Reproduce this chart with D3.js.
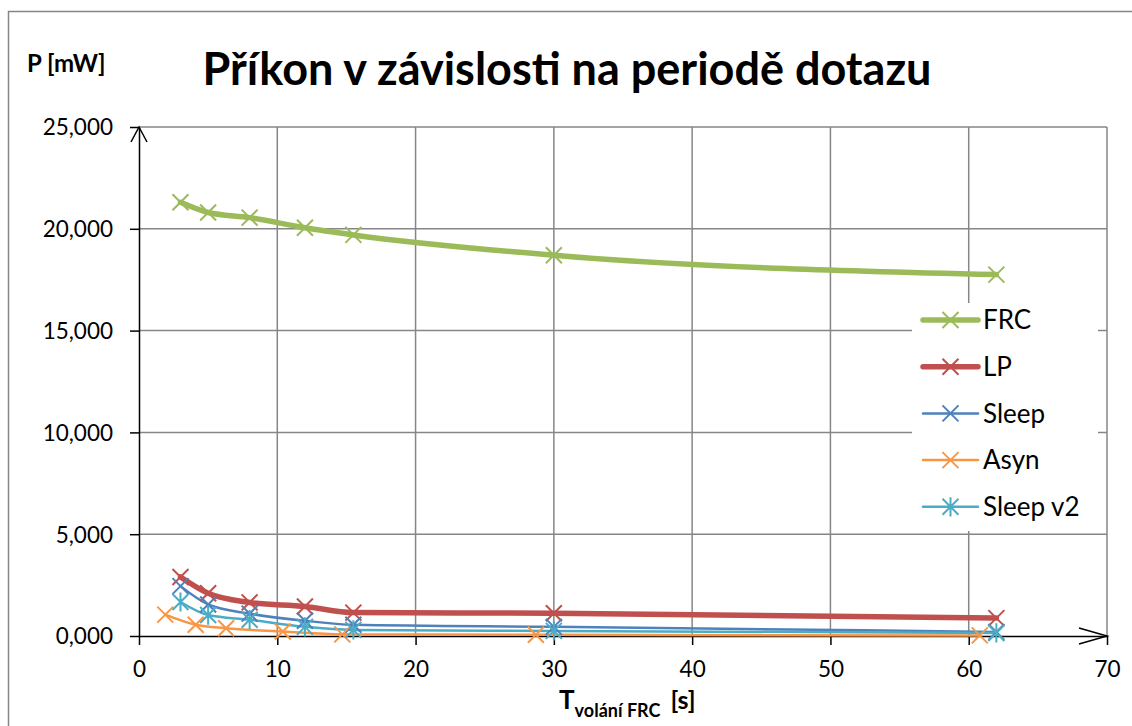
<!DOCTYPE html>
<html>
<head>
<meta charset="utf-8">
<script src="https://cdn.jsdelivr.net/npm/d3@7"></script>
<style>
  body { margin: 0; background: #fff; }
  text { font-family: Lato, "Open Sans", sans-serif; fill: #000; }
</style>
</head>
<body>
<div id="one"></div>
<script>
// period of FRC calls [s] and power [mW]
var seriesNames = ["FRC", "LP", "Sleep", "Asyn", "Sleep v2"]
var seriesColors = ["#9bbb59", "#c0504d", "#4f81bd", "#f79646", "#4bacc6"]
var seriesWidths = [5.5, 5.5, 2.5, 2.5, 2.5]
var seriesMarkers = ["x", "x", "x", "x", "star"]

var xMain = [3, 5, 8, 12, 15.5, 30, 62]
var xAsyn = [1.9, 4.1, 6.3, 10.4, 14.7, 28.7, 60.8]

var frcValues = [21.3, 20.8, 20.55, 20.05, 19.7, 18.7, 17.75]
var lpValues = [2.9, 2.1, 1.65, 1.45, 1.15, 1.12, 0.88]
var sleepValues = [2.45, 1.55, 1.1, 0.75, 0.55, 0.45, 0.2]
var asynValues = [1.05, 0.55, 0.38, 0.22, 0.08, 0.06, 0.03]
var sleepV2Values = [1.67, 1.03, 0.8, 0.45, 0.3, 0.25, 0.15]

var xTicks = [0, 10, 20, 30, 40, 50, 60, 70]
var yTicks = [0, 5, 10, 15, 20, 25]

var series = [
  {x: xMain, y: frcValues},
  {x: xMain, y: lpValues},
  {x: xMain, y: sleepValues},
  {x: xAsyn, y: asynValues},
  {x: xMain, y: sleepV2Values}
].map(function(s, i) {
  return {
    name: seriesNames[i], color: seriesColors[i], width: seriesWidths[i], marker: seriesMarkers[i],
    values: s.x.map(function(d, j) { return {x: d, y: s.y[j]} })
  }
})

var W = 1132, H = 726
var margin = {left: 139, right: 25, top: 127, bottom: 90}

var svg = d3.select('#one').append('svg')
  .attr('width', W).attr('height', H)

// outer chart frame
svg.append('rect')
  .attr('x', 8.5).attr('y', 11.5).attr('width', 1140).attr('height', 740)
  .attr('fill', 'none').attr('stroke', '#868686').attr('stroke-width', 1.5)

var x = d3.scaleLinear().domain([0, 70]).range([margin.left, W - margin.right])
var y = d3.scaleLinear().domain([0, 25]).range([H - margin.bottom, margin.top])

var czech = d3.formatLocale({decimal: ",", thousands: " ", grouping: [3], currency: ["", ""]})
var yFmt = czech.format(".3f")

// gridlines
var grid = svg.append('g').attr('stroke', '#868686').attr('stroke-width', 1.5)
grid.selectAll('line.h').data(yTicks.filter(d => d > 0)).enter().append('line')
  .attr('x1', x(0)).attr('x2', x(70)).attr('y1', d => y(d)).attr('y2', d => y(d))
grid.selectAll('line.v').data(xTicks.filter(d => d > 0)).enter().append('line')
  .attr('y1', y(0)).attr('y2', y(25)).attr('x1', d => x(d)).attr('x2', d => x(d))

// legend box hides gridlines behind it
svg.append('rect')
  .attr('x', 912).attr('y', 303).attr('width', 186).attr('height', 228)
  .attr('fill', '#fff')

// axes
var xAxis = g => g
  .attr('transform', `translate(0,${y(0)})`)
  .call(d3.axisBottom(x).tickValues(xTicks).tickSize(9).tickSizeOuter(0).tickPadding(16))
var yAxis = g => g
  .attr('transform', `translate(${x(0)},0)`)
  .call(d3.axisLeft(y).tickValues(yTicks).tickFormat(yFmt).tickSize(9).tickSizeOuter(0).tickPadding(17))

svg.append('g').call(xAxis)
  .call(g => g.selectAll('text').style('font-size', '22.5px'))
  .call(g => g.selectAll('line, path').attr('stroke', '#000').attr('stroke-width', 1.5))
svg.append('g').call(yAxis)
  .call(g => g.selectAll('text').style('font-size', '22.5px').attr('dy', '0.35em'))
  .call(g => g.selectAll('line, path').attr('stroke', '#000').attr('stroke-width', 1.5))

// arrow heads
var arrows = svg.append('g').attr('fill', 'none').attr('stroke', '#000').attr('stroke-width', 1.5)
arrows.append('path')
  .attr('d', `M${x(0) - 8},${y(25) + 15}L${x(0)},${y(25)}L${x(0) + 8},${y(25) + 15}`)
arrows.append('path')
  .attr('d', `M${x(70) - 28},${y(0) - 8}L${x(70)},${y(0)}L${x(70) - 28},${y(0) + 8}`)

// lines
var line = d3.line()
  .x(d => x(d.x))
  .y(d => y(d.y))
  .curve(d3.curveMonotoneX)

svg.append('g').attr('fill', 'none')
  .selectAll('path').data(series).enter().append('path')
  .attr('stroke', d => d.color)
  .attr('stroke-width', d => d.width)
  .attr('stroke-linejoin', 'round')
  .attr('stroke-linecap', 'round')
  .attr('d', d => line(d.values))

function markerPath(type, r) {
  var p = `M${-r},${-r}L${r},${r}M${-r},${r}L${r},${-r}`
  if (type === 'star') p += `M0,${-r * 1.2}L0,${r * 1.2}`
  return p
}

series.forEach(function(s) {
  svg.append('g').selectAll('path').data(s.values).enter().append('path')
    .attr('transform', d => `translate(${x(d.x)},${y(d.y)})`)
    .attr('d', markerPath(s.marker, 8))
    .attr('fill', 'none')
    .attr('stroke', s.color)
    .attr('stroke-width', 2)
})

// legend
var legend = svg.append('g').attr('transform', 'translate(923,320)')
var item = legend.selectAll('g').data(series).enter().append('g')
  .attr('transform', (d, i) => `translate(0,${i * 46.7})`)
item.append('line')
  .attr('x1', 0).attr('x2', 55)
  .attr('stroke', d => d.color).attr('stroke-width', d => d.width)
  .attr('stroke-linecap', 'round')
item.append('path')
  .attr('transform', 'translate(27.5,0)')
  .attr('d', d => markerPath(d.marker, 8))
  .attr('stroke', d => d.color).attr('stroke-width', 2).attr('fill', 'none')
item.append('text')
  .attr('x', 60).attr('dy', '0.35em')
  .style('font-size', '26px')
  .text(d => d.name)

// titles
svg.append('text')
  .attr('x', 567).attr('y', 85)
  .attr('text-anchor', 'middle')
  .style('font-size', '45px').style('font-weight', 'bold')
  .text('Příkon v závislosti na periodě dotazu')

svg.append('text')
  .attr('x', 27).attr('y', 72)
  .style('font-size', '24px').style('font-weight', 'bold')
  .text('P [mW]')

var xt = svg.append('text')
  .attr('x', 559).attr('y', 709)
  .style('font-weight', 'bold')
xt.append('tspan').style('font-size', '26px').text('T')
xt.append('tspan').style('font-size', '18px').attr('dy', 8).text('volání FRC')
xt.append('tspan').style('font-size', '25px').attr('dy', -8).attr('dx', 10).text('[s]')
</script>
</body>
</html>
